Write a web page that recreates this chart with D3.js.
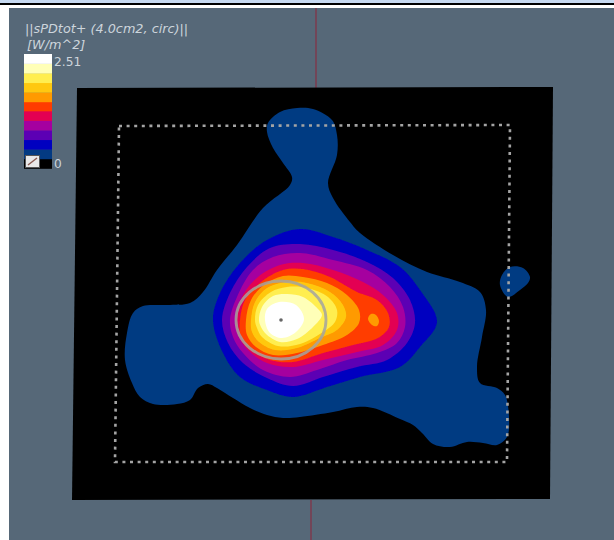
<!DOCTYPE html>
<html lang="en">
<head>
<meta charset="UTF-8">
<title>sPDtot+ surface map</title>
<script src="https://d3js.org/d3.v7.min.js"></script>
<style>
  body { margin: 0; background: #fff; overflow: hidden; }
  svg { display: block; }
  text { font-family: "DejaVu Sans", sans-serif; fill: #cdd5dc; }
</style>
</head>
<body>
<script>
// values, outlines in scan plane units
const maxValue = 2.51;
const bandLevels = [0, 0.21, 0.42, 0.63, 0.84, 1.05, 1.26, 1.46, 1.67, 1.88, 2.09, 2.30];
const bandColors = ["#000000", "#033a82", "#0000c0", "#5c00b4", "#a5009f", "#e30052", "#ff3c00", "#ff9a00", "#ffc810", "#ffee50", "#ffffb8", "#ffffff"];

const planeCorners = [[7,3],[483,2],[480,414],[2,415]];
const scanBox = [[49,41],[440,40],[437,377],[45,377]];
const axisTop = [[246,-77],[246,3]];
const axisBottom = [[241,415],[241,455]];
const peak = [211, 235];
const averagingCircle = { x: 211, y: 235, rx: 45, ry: 39 };

const outerLobe = [[198,38],[210,27],[227,23],[243,24],[262,35],[267,50],[267,70],[258,98],[263,113],[280,137],[290,148],[323,170],[357,187],[390,197],[410,207],[416,225],[412,252],[407,282],[410,298],[427,303],[435,310],[439,332],[437,352],[427,360],[413,358],[397,357],[380,362],[363,359],[352,348],[343,340],[330,334],[303,323],[287,322],[263,327],[230,332],[213,333],[197,330],[180,323],[163,313],[147,303],[138,299],[128,303],[120,315],[107,319],[83,319],[70,312],[62,298],[55,275],[57,248],[63,228],[73,221],[97,220],[120,218],[133,207],[147,185],[167,160],[193,123],[220,100],[222,92],[213,78],[203,63],[197,47]];
const sideIsland = [[460,192],[453,183],[440,182],[432,190],[430,200],[438,212],[450,205],[458,198]];
const blueLine = [[143,235],[150,208],[170,178],[197,155],[230,144],[263,152],[297,165],[330,182],[350,205],[367,237],[350,262],[330,282],[290,292],[257,302],[223,312],[197,305],[170,292],[153,268]];
const purpleLine = [[152,235],[160,208],[177,182],[200,163],[230,159],[263,165],[297,177],[323,193],[340,215],[345,238],[337,258],[317,275],[287,282],[253,292],[223,301],[197,293],[173,278],[158,258]];
const magentaLine = [[160,235],[167,212],[183,185],[203,172],[230,168],[263,175],[297,185],[320,202],[333,222],[335,242],[327,258],[307,268],[277,275],[247,285],[220,292],[193,285],[173,268],[163,252]];
const crimsonLine = [[166,235],[173,210],[188,192],[210,180],[233,178],[263,185],[293,197],[313,210],[327,228],[327,245],[313,260],[287,267],[253,275],[223,282],[197,278],[178,265],[169,252]];
const redLine = [[170,235],[175,215],[191,197],[213,185],[233,184],[260,192],[287,207],[307,215],[318,228],[319,242],[308,253],[283,260],[253,268],[223,277],[200,275],[181,265],[171,252]];
const orangeLine = [[176,235],[181,215],[194,200],[213,191],[233,192],[257,198],[277,210],[289,225],[289,238],[277,250],[253,260],[227,268],[203,270],[186,262],[177,250]];
const secondPeak = [[298,234],[301,229],[306,230],[309,236],[307,241],[302,240]];
const goldLine = [[181,235],[185,217],[197,203],[217,197],[237,198],[260,207],[273,220],[276,232],[267,245],[250,253],[227,263],[205,265],[189,257],[182,247]];
const yellowLine = [[185,235],[188,220],[201,207],[217,202],[237,203],[258,212],[267,225],[265,237],[253,247],[230,259],[208,261],[192,252],[187,243]];
const paleLine = [[189,235],[192,222],[203,211],[217,209],[233,212],[248,224],[252,230],[243,242],[227,254],[210,257],[196,249],[191,242]];
const whiteLine = [[195,235],[197,224],[209,217],[226,220],[234,234],[226,247],[212,253],[200,248]];

// level of each outline, lowest drawn first
const contours = [
  { level: 0.21, line: outerLobe },
  { level: 0.21, line: sideIsland },
  { level: 0.42, line: blueLine },
  { level: 0.63, line: purpleLine },
  { level: 0.84, line: magentaLine },
  { level: 1.05, line: crimsonLine },
  { level: 1.26, line: redLine },
  { level: 1.46, line: orangeLine },
  { level: 1.46, line: secondPeak },
  { level: 1.67, line: goldLine },
  { level: 1.88, line: yellowLine },
  { level: 2.09, line: paleLine },
  { level: 2.30, line: whiteLine }
];

const width = 614, height = 540;
const x = d3.scaleLinear().domain([0, 490]).range([70, 560]);
const y = d3.scaleLinear().domain([0, 420]).range([85, 505]);
const color = d3.scaleThreshold().domain(bandLevels.slice(1)).range(bandColors);

const svg = d3.select("body").append("svg")
  .attr("width", width)
  .attr("height", height);

const defs = svg.append("defs");
defs.append("filter").attr("id", "soft")
  .append("feGaussianBlur").attr("stdDeviation", 0.6);
defs.append("filter").attr("id", "softer")
  .append("feGaussianBlur").attr("stdDeviation", 0.35);

// page frame around the screenshot
svg.append("rect").attr("x", 9).attr("y", 8).attr("width", width - 9).attr("height", height - 8).attr("fill", "#566878");
svg.append("rect").attr("width", width).attr("height", 3).attr("fill", "#c6d9f1");
svg.append("rect").attr("y", 3).attr("width", width).attr("height", 2).attr("fill", "#000");

const straight = d3.line().x(d => x(d[0])).y(d => y(d[1]));
const smooth = d3.line().x(d => x(d[0])).y(d => y(d[1])).curve(d3.curveCatmullRomClosed.alpha(0.5));

svg.selectAll("path.axis")
  .data([axisTop, axisBottom])
  .join("path")
  .attr("class", "axis")
  .attr("d", straight)
  .attr("stroke", "#8e2238")
  .attr("stroke-width", 1)
  .attr("fill", "none");

svg.append("path")
  .attr("d", straight(planeCorners) + "Z")
  .attr("fill", "#000");

const map = svg.append("g").attr("filter", "url(#soft)");

map.selectAll("path.level")
  .data(contours)
  .join("path")
  .attr("class", "level")
  .attr("d", d => smooth(d.line))
  .attr("fill", d => color(d.level));

map.append("ellipse")
  .attr("cx", x(averagingCircle.x))
  .attr("cy", y(averagingCircle.y))
  .attr("rx", x(averagingCircle.rx) - x(0))
  .attr("ry", y(averagingCircle.ry) - y(0))
  .attr("fill", "none")
  .attr("stroke", "#a3a3a0")
  .attr("stroke-opacity", 0.85)
  .attr("stroke-width", 2.8);

map.append("circle")
  .attr("cx", x(peak[0]))
  .attr("cy", y(peak[1]))
  .attr("r", 1.8)
  .attr("fill", "#666");

svg.append("path")
  .attr("d", straight(scanBox) + "Z")
  .attr("fill", "none")
  .attr("stroke", "#a4a4a4")
  .attr("stroke-width", 2.6)
  .attr("stroke-dasharray", "3 4.6")
  .attr("filter", "url(#softer)");

// colour bar
const barX = 24, barW = 28;
const barY = d3.scaleLinear().domain([0, maxValue]).range([168.5, 54]);
const legend = svg.append("g");

legend.selectAll("rect.band")
  .data(bandLevels)
  .join("rect")
  .attr("class", "band")
  .attr("x", barX)
  .attr("width", barW)
  .attr("y", (d, i) => barY(i < bandLevels.length - 1 ? bandLevels[i + 1] : maxValue))
  .attr("height", (d, i) => barY(d) - barY(i < bandLevels.length - 1 ? bandLevels[i + 1] : maxValue) + 0.3)
  .attr("fill", d => color(d));

legend.append("rect").attr("x", 25.5).attr("y", 155.5).attr("width", 14).attr("height", 12)
  .attr("fill", "#e8e8e8").attr("stroke", "#555").attr("stroke-width", 1);
legend.append("line").attr("x1", 28).attr("y1", 165).attr("x2", 37).attr("y2", 158)
  .attr("stroke", "#8a5a50").attr("stroke-width", 1.4);

svg.append("text").attr("x", 25).attr("y", 33).attr("font-size", 12.8).attr("font-style", "italic")
  .text("||sPDtot+ (4.0cm2, circ)||");
svg.append("text").attr("x", 27).attr("y", 49).attr("font-size", 12.8).attr("font-style", "italic")
  .text("[W/m^2]");
svg.append("text").attr("x", 54).attr("y", 66).attr("font-size", 12.2).text(maxValue);
svg.append("text").attr("x", 54).attr("y", 168).attr("font-size", 12.2).text(0);
</script>
</body>
</html>
